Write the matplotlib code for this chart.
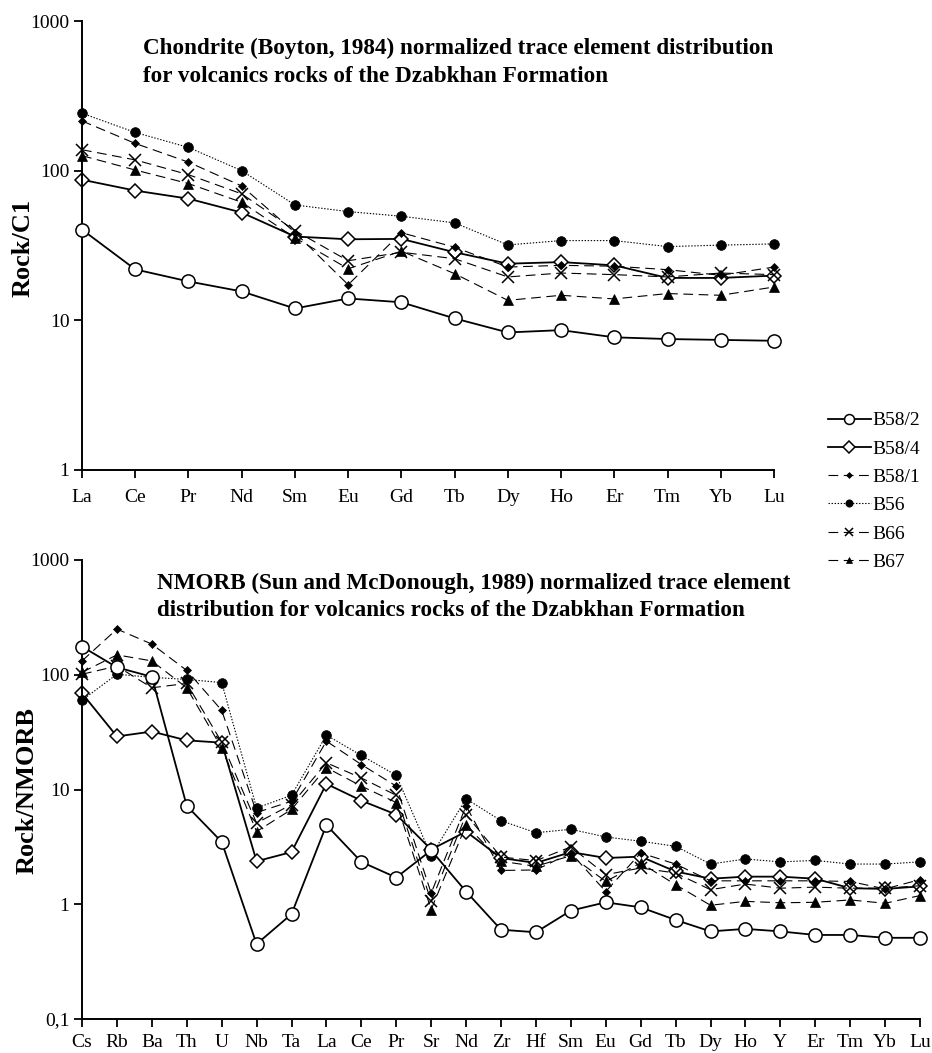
import matplotlib
matplotlib.use("Agg")
import matplotlib.pyplot as plt
from matplotlib.lines import Line2D
import numpy as np

plt.rcParams["font.family"] = ["Liberation Serif", "DejaVu Serif"]
plt.rcParams["lines.scale_dashes"] = False

# ── Data ─────────────────────────────────────────────────────────────────────
samples = ["B58/2", "B58/4", "B58/1", "B56", "B66", "B67"]

ree_elements = ["La", "Ce", "Pr", "Nd", "Sm", "Eu", "Gd", "Tb", "Dy", "Ho",
                "Er", "Tm", "Yb", "Lu"]
ree_b58_2 = [40.4, 21.9, 18.2, 15.6, 12.0, 14.0, 13.2, 10.3, 8.3, 8.6, 7.7, 7.5, 7.4, 7.3]
ree_b58_4 = [87, 73.6, 65, 52.5, 36.3, 34.8, 35, 28.5, 23.9, 24.5, 23.3, 19.2, 19.2, 19.9]
ree_b58_1 = [215, 152, 114, 79, 38.6, 17.3, 38.5, 30.8, 22.7, 23.3, 23, 21.8, 20, 22.7]
ree_b56   = [242, 180, 143, 100, 59, 53.3, 49.6, 44.8, 31.9, 34.1, 34.1, 31.1, 31.8, 32.4]
ree_b66   = [138, 118, 94, 70, 39.8, 25, 28.5, 25.8, 19.5, 20.7, 20.2, 19.5, 20.7, 20.2]
ree_b67   = [126, 101, 82, 61.5, 35.6, 22.1, 29, 20.5, 13.6, 14.7, 13.9, 15.1, 14.7, 16.7]

te_elements = ["Cs", "Rb", "Ba", "Th", "U", "Nb", "Ta", "La", "Ce", "Pr", "Sr", "Nd",
               "Zr", "Hf", "Sm", "Eu", "Gd", "Tb", "Dy", "Ho", "Y", "Er", "Tm", "Yb", "Lu"]
te_b58_2 = [176, 116, 96, 7.2, 3.5, 0.45, 0.82, 4.9, 2.34, 1.71, 2.95, 1.29, 0.6, 0.57,
            0.88, 1.04, 0.94, 0.73, 0.58, 0.61, 0.58, 0.54, 0.54, 0.51, 0.51]
te_b58_4 = [69, 29, 32, 26.8, 25.6, 2.37, 2.85, 11.2, 8.0, 6.05, 3.0, 4.3, 2.53, 2.29,
            2.85, 2.53, 2.6, 1.93, 1.67, 1.74, 1.74, 1.67, 1.38, 1.36, 1.43]
te_b58_1 = [132, 250, 185, 109, 49, 6.3, 7.9, 26.4, 16.5, 10.7, 1.25, 7.2, 1.97, 1.99,
            2.8, 1.29, 2.8, 2.24, 1.6, 1.6, 1.6, 1.6, 1.58, 1.36, 1.64]
te_b56   = [60, 101, 95, 91, 85.5, 6.9, 8.9, 29.8, 19.8, 13.3, 2.65, 8.3, 5.35, 4.2,
            4.5, 3.86, 3.54, 3.2, 2.24, 2.48, 2.34, 2.41, 2.24, 2.24, 2.34]
te_b66   = [101, 119, 77, 84, 25.9, 5.1, 7.4, 17.1, 12.6, 8.9, 1.06, 6.05, 2.58, 2.4,
            3.16, 1.81, 2.07, 1.87, 1.34, 1.5, 1.38, 1.41, 1.38, 1.38, 1.45]
te_b67   = [105, 149, 132, 77, 23, 4.3, 6.7, 15.5, 10.7, 7.7, 0.9, 4.9, 2.37, 2.14,
            2.65, 1.58, 2.29, 1.48, 0.98, 1.06, 1.03, 1.04, 1.09, 1.02, 1.19]

ree_series = [ree_b58_2, ree_b58_4, ree_b58_1, ree_b56, ree_b66, ree_b67]
te_series = [te_b58_2, te_b58_4, te_b58_1, te_b56, te_b66, te_b67]

# ── Styles per sample ────────────────────────────────────────────────────────
styles = {
    "B58/2": dict(marker="o", ms=9.5, mfc="white", mec="black", mew=1.1,
                  ls="-", lw=1.3, zorder=3),
    "B58/4": dict(marker="D", ms=7.5, mfc="white", mec="black", mew=1.1,
                  ls="-", lw=1.3, zorder=2),
    "B58/1": dict(marker="D", ms=4.0, mfc="black", mec="black", mew=0.5,
                  ls=(0, (7, 4)), lw=0.8, zorder=2),
    "B56":   dict(marker="o", ms=7.0, mfc="black", mec="black", mew=0.5,
                  ls=(0, (1, 1.2)), lw=0.8, zorder=2),
    "B66":   dict(marker="x", ms=8.0, mfc="black", mec="black", mew=1.1,
                  ls=(0, (7, 4)), lw=0.8, zorder=2),
    "B67":   dict(marker="^", ms=6.5, mfc="black", mec="black", mew=0.5,
                  ls=(0, (7, 4)), lw=0.8, zorder=2),
}

W, H = 932, 1053
fig = plt.figure(figsize=(W / 100, H / 100), dpi=100)


def px_axes(x0, y0, x1, y1):
    return fig.add_axes([x0 / W, 1 - y1 / H, (x1 - x0) / W, (y1 - y0) / H])


def style_axes(ax, labels, ylo, yticks, yticklabels, xpad):
    ax.set_yscale("log")
    ax.set_xlim(0, len(labels) - 1)
    ax.set_ylim(ylo, 1000)
    ax.set_xticks(range(len(labels)))
    ax.set_xticklabels(labels, fontsize=14)
    ax.set_yticks(yticks)
    ax.set_yticklabels(yticklabels, fontsize=14)
    ax.minorticks_off()
    ax.tick_params(axis="both", direction="out", length=6, width=1.3, pad=3)
    ax.tick_params(axis="x", pad=xpad)
    for s in ["top", "right"]:
        ax.spines[s].set_visible(False)
    for s in ["left", "bottom"]:
        ax.spines[s].set_linewidth(1.4)
    ax.patch.set_alpha(0)


# ── Top: chondrite normalized ────────────────────────────────────────────────
ax1 = px_axes(82, 21, 774, 470)
for name, vals in zip(samples, ree_series):
    ax1.plot(range(len(ree_elements)), vals, color="black", clip_on=False,
             **styles[name])
style_axes(ax1, ree_elements, 1, [1, 10, 100, 1000], ["1", "10", "100", "1000"],
           xpad=7.5)

fig.text(143 / W, 1 - 48 / H,
         "Chondrite (Boyton, 1984) normalized trace element distribution",
         fontsize=16.7, fontweight="bold", va="center", ha="left")
fig.text(143 / W, 1 - 76 / H,
         "for volcanics rocks of the Dzabkhan Formation",
         fontsize=16.7, fontweight="bold", va="center", ha="left")
fig.text(23 / W, 1 - 248 / H, "Rock/C1", rotation=90, fontsize=19,
         fontweight="bold", ha="center", va="center")

# ── Bottom: NMORB normalized ─────────────────────────────────────────────────
ax2 = px_axes(82, 560, 920, 1019)
for name, vals in zip(samples, te_series):
    ax2.plot(range(len(te_elements)), vals, color="black", clip_on=False,
             **styles[name])
style_axes(ax2, te_elements, 0.1, [0.1, 1, 10, 100, 1000],
           ["0,1", "1", "10", "100", "1000"], xpad=4.5)

fig.text(157 / W, 1 - 583 / H,
         "NMORB (Sun and McDonough, 1989) normalized trace element",
         fontsize=16.7, fontweight="bold", va="center", ha="left")
fig.text(157 / W, 1 - 610 / H,
         "distribution for volcanics rocks of the Dzabkhan Formation",
         fontsize=16.7, fontweight="bold", va="center", ha="left")
fig.text(27 / W, 1 - 790 / H, "Rock/NMORB", rotation=90, fontsize=19,
         fontweight="bold", ha="center", va="center")

# ── Legend ───────────────────────────────────────────────────────────────────
handles = []
for name in samples:
    st = dict(styles[name])
    st["ms"] = st["ms"] * 0.75
    st.pop("zorder")
    handles.append(Line2D([], [], color="black", **st))
fig.legend(handles, samples, loc="upper left",
           bbox_to_anchor=(820 / W, 1 - 404 / H), frameon=False,
           fontsize=14, handlelength=2.2, handletextpad=0.1,
           labelspacing=0.55, borderaxespad=0)

fig.savefig("out.png", dpi=100)
